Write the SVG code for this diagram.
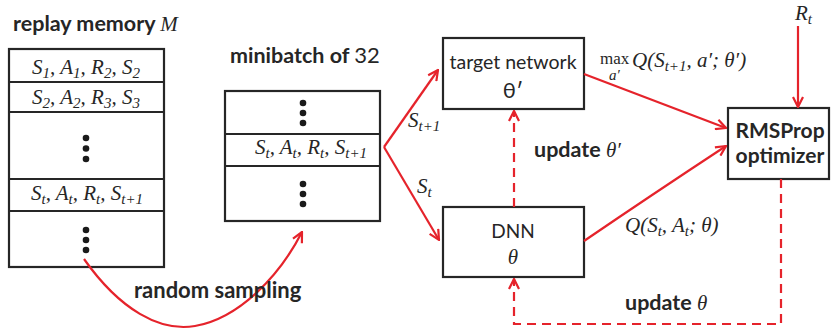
<svg xmlns="http://www.w3.org/2000/svg" width="831" height="330" viewBox="0 0 831 330">
<style>
.box{fill:#fff;stroke:#262626;stroke-width:2.2}
.ln{stroke:#262626;stroke-width:2.2}
.dot{fill:#1a1a1a}
.b{font-family:Lato,"Open Sans",sans-serif;font-weight:bold;fill:#262626}
.s{font-family:Lato,"Open Sans",sans-serif;fill:#262626}
.m{font-family:"Liberation Serif","Times New Roman",serif;font-style:italic;fill:#262626}
.r{font-family:"Liberation Serif","Times New Roman",serif;fill:#262626}
.sub{font-size:15px}
.red{fill:none;stroke:#e5232b;stroke-width:2.2}
.dash{fill:none;stroke:#e5232b;stroke-width:2.2;stroke-dasharray:9,6}
</style>
<defs>
<marker id="ah" viewBox="0 0 12 12" refX="11" refY="6" markerWidth="12" markerHeight="12" markerUnits="userSpaceOnUse" orient="auto">
<path d="M1,1 L11,6 L1,11" fill="none" stroke="#e5232b" stroke-width="2.2"/>
</marker>
</defs>

<g id="replay-memory">
<text class="b" x="13" y="31" font-size="21.5">replay memory <tspan class="m" font-weight="normal" font-size="21">M</tspan></text>
<rect class="box" x="9" y="49" width="155" height="218"/>
<line class="ln" x1="9" y1="82" x2="164" y2="82"/>
<line class="ln" x1="9" y1="112" x2="164" y2="112"/>
<line class="ln" x1="9" y1="179" x2="164" y2="179"/>
<line class="ln" x1="9" y1="211" x2="164" y2="211"/>
<text class="m" x="86" y="74" font-size="21" text-anchor="middle">S<tspan class="sub" dy="4">1</tspan><tspan dy="-4">, A</tspan><tspan class="sub" dy="4">1</tspan><tspan dy="-4">, R</tspan><tspan class="sub" dy="4">2</tspan><tspan dy="-4">, S</tspan><tspan class="sub" dy="4">2</tspan></text>
<text class="m" x="86" y="104" font-size="21" text-anchor="middle">S<tspan class="sub" dy="4">2</tspan><tspan dy="-4">, A</tspan><tspan class="sub" dy="4">2</tspan><tspan dy="-4">, R</tspan><tspan class="sub" dy="4">3</tspan><tspan dy="-4">, S</tspan><tspan class="sub" dy="4">3</tspan></text>
<circle class="dot" cx="86" cy="138" r="3.3"/>
<circle class="dot" cx="86" cy="148.5" r="3.3"/>
<circle class="dot" cx="86" cy="159" r="3.3"/>
<text class="m" x="87" y="200" font-size="21" text-anchor="middle">S<tspan class="sub" dy="4">t</tspan><tspan dy="-4">, A</tspan><tspan class="sub" dy="4">t</tspan><tspan dy="-4">, R</tspan><tspan class="sub" dy="4">t</tspan><tspan dy="-4">, S</tspan><tspan class="sub" dy="4">t+1</tspan></text>
<circle class="dot" cx="86" cy="230" r="3.3"/>
<circle class="dot" cx="86" cy="240" r="3.3"/>
<circle class="dot" cx="86" cy="250" r="3.3"/>
</g>

<g id="minibatch">
<text class="b" x="230" y="63" font-size="21.5">minibatch of <tspan class="s" font-weight="normal" font-size="22">32</tspan></text>
<rect class="box" x="225" y="91" width="155" height="130"/>
<line class="ln" x1="225" y1="134" x2="380" y2="134"/>
<line class="ln" x1="225" y1="166" x2="380" y2="166"/>
<circle class="dot" cx="303" cy="103" r="3.3"/>
<circle class="dot" cx="303" cy="113" r="3.3"/>
<circle class="dot" cx="303" cy="123" r="3.3"/>
<text class="m" x="311" y="154" font-size="21" text-anchor="middle">S<tspan class="sub" dy="4">t</tspan><tspan dy="-4">, A</tspan><tspan class="sub" dy="4">t</tspan><tspan dy="-4">, R</tspan><tspan class="sub" dy="4">t</tspan><tspan dy="-4">, S</tspan><tspan class="sub" dy="4">t+1</tspan></text>
<circle class="dot" cx="303" cy="184" r="3.3"/>
<circle class="dot" cx="303" cy="194" r="3.3"/>
<circle class="dot" cx="303" cy="204" r="3.3"/>
</g>

<g id="target-network">
<rect class="box" x="443" y="38" width="141" height="71"/>
<text class="s" x="513" y="69" font-size="19.5" text-anchor="middle">target network</text>
<text class="s" x="513" y="98" font-size="22" text-anchor="middle">θ′</text>
</g>

<g id="dnn">
<rect class="box" x="443" y="207" width="141" height="70"/>
<text class="s" x="513" y="238" font-size="19" text-anchor="middle">DNN</text>
<text class="m" x="513" y="264" font-size="21" text-anchor="middle">θ</text>
</g>

<g id="rmsprop">
<rect class="box" x="728" y="108" width="101" height="71"/>
<text class="b" x="780" y="138" font-size="21" text-anchor="middle">RMSProp</text>
<text class="b" x="780" y="163" font-size="21" text-anchor="middle">optimizer</text>
</g>

<g id="connectors">
<path class="red" d="M84,259 C120,310 160,332 195,326 C240,318 280,275 302,232" marker-end="url(#ah)"/>
<path class="red" d="M384,147 L438,70" marker-end="url(#ah)"/>
<path class="red" d="M384,147 L439,240" marker-end="url(#ah)"/>
<path class="red" d="M584,74 L726,128" marker-end="url(#ah)"/>
<path class="red" d="M584,241 Q650,196 726,146" marker-end="url(#ah)"/>
<path class="red" d="M798,26 L798,107" marker-end="url(#ah)"/>
<path class="dash" d="M514,207 L514,111" marker-end="url(#ah)"/>
<path class="dash" d="M781,179 L781,324 L514,324 L514,279" marker-end="url(#ah)"/>
</g>

<g id="labels">
<text class="b" x="134" y="298" font-size="22">random sampling</text>
<text class="m" x="408" y="127" font-size="21">S<tspan class="sub" dy="4">t+1</tspan></text>
<text class="m" x="417" y="193" font-size="21">S<tspan class="sub" dy="4">t</tspan></text>
<text class="r" x="600" y="64" font-size="17">max</text>
<text class="m" x="609" y="80" font-size="15">a′</text>
<text class="m" x="632" y="67" font-size="21">Q(S<tspan class="sub" dy="4">t+1</tspan><tspan dy="-4">, a′; θ′)</tspan></text>
<text class="m" x="625" y="232" font-size="21">Q(S<tspan class="sub" dy="4">t</tspan><tspan dy="-4">, A</tspan><tspan class="sub" dy="4">t</tspan><tspan dy="-4">; θ)</tspan></text>
<text class="b" x="534" y="157" font-size="21.5">update <tspan class="m" font-weight="normal" font-size="21">θ′</tspan></text>
<text class="b" x="625" y="310" font-size="21.5">update <tspan class="m" font-weight="normal" font-size="21">θ</tspan></text>
<text class="m" x="795" y="20" font-size="21">R<tspan class="sub" dy="4">t</tspan></text>
</g>
</svg>
